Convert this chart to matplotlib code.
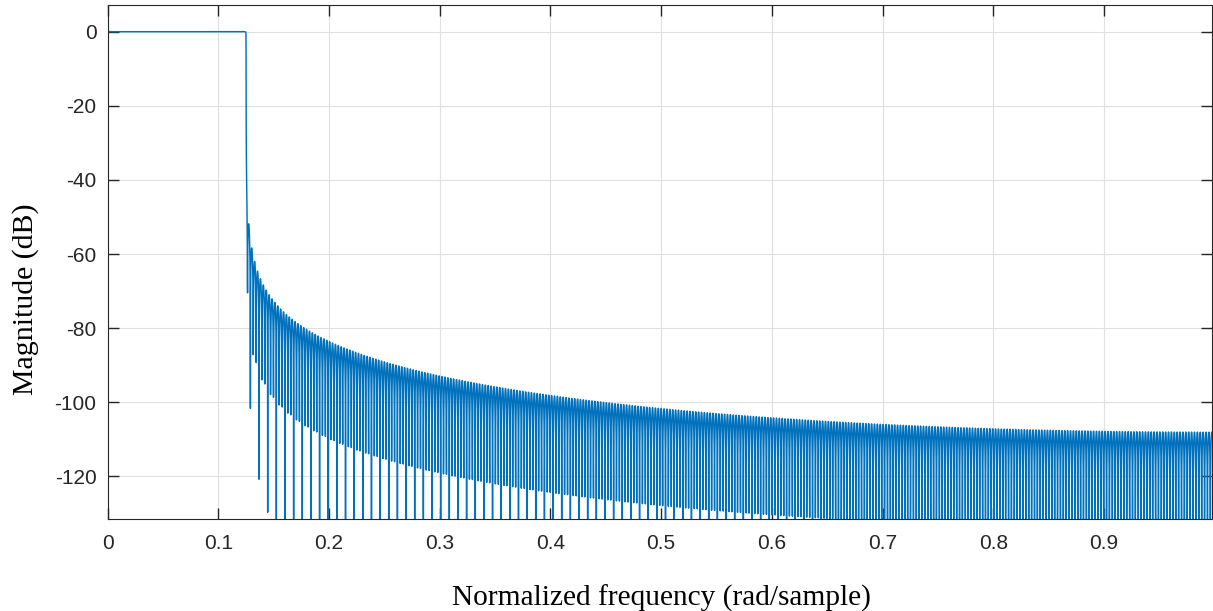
import numpy as np
import matplotlib
matplotlib.use("Agg")
import matplotlib.pyplot as plt

# ---- data (filter design) ----
cutoff = 0.125            # normalized cutoff (x pi rad/sample)
filter_order = 32000      # truncated-sinc (rectangular window) FIR order
n_freq = 8192             # number of frequency points (freqz-style grid)

xticks = [0, 0.1, 0.2, 0.3, 0.4, 0.5, 0.6, 0.7, 0.8, 0.9]
xticklabels = ["0", "0.1", "0.2", "0.3", "0.4", "0.5", "0.6", "0.7", "0.8", "0.9"]
yticks = [-120, -100, -80, -60, -40, -20, 0]
yticklabels = ["-120", "-100", "-80", "-60", "-40", "-20", "0"]
x_label = "Normalized frequency (rad/sample)"
y_label = "Magnitude (dB)"

# ---- filter + frequency response via numpy FFT ----
n = np.arange(filter_order + 1) - filter_order / 2
h = cutoff * np.sinc(cutoff * n)
h = h / h.sum()
nfft = 2 * n_freq
hw = np.bincount(np.arange(h.size) % nfft, weights=h, minlength=nfft)
H = np.fft.fft(hw)[:n_freq]
w = np.arange(n_freq) / n_freq
mag_db = 20 * np.log10(np.maximum(np.abs(H), 1e-20))

# ---- plot ----
plt.rcParams["path.simplify"] = False
W, Hpx = 1213, 611
fig = plt.figure(figsize=(W / 100, Hpx / 100), dpi=100)
ax = fig.add_axes([107.7 / W, 1 - 519 / Hpx, (1212 - 107.7) / W, (519 - 5) / Hpx])

ax.plot(w, mag_db, color="#0072BD", lw=1.05, antialiased=True)

ax.set_xlim(0, 0.9976)
ax.set_ylim(-131.5, 7.2)
ax.set_xticks(xticks)
ax.set_xticklabels(xticklabels)
ax.set_yticks(yticks)
ax.set_yticklabels(yticklabels)

tick_font = "Liberation Sans"
for lab in ax.get_xticklabels() + ax.get_yticklabels():
    lab.set_fontfamily(tick_font)
    lab.set_fontsize(15)
    lab.set_color("#262626")

ax.tick_params(axis="both", which="both", direction="in", length=8, width=1.0,
               color="#262626", top=True, right=True)
ax.tick_params(axis="x", pad=11)
ax.tick_params(axis="y", pad=8)

for s in ax.spines.values():
    s.set_color("#262626")
    s.set_linewidth(0.8)

ax.grid(True, color="#e0e0e0", lw=0.8)
ax.set_axisbelow(True)

ax.set_xlabel(x_label, fontfamily="Liberation Serif", fontsize=21.2, color="black")
ax.set_ylabel(y_label, fontfamily="Liberation Serif", fontsize=21.5, color="black")
ax.xaxis.set_label_coords(0.501, -0.128)
ax.yaxis.set_label_coords(-0.062, 0.428)

fig.savefig("out.png", dpi=100)
